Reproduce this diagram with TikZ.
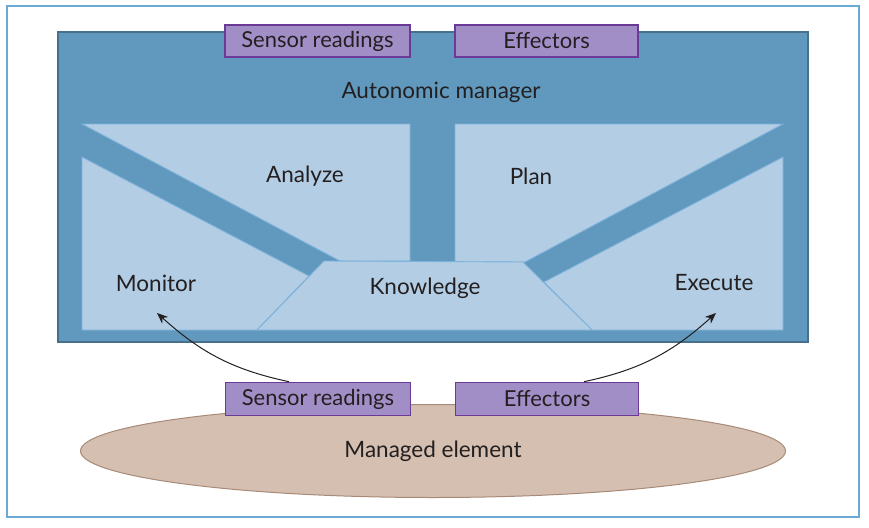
\documentclass[tikz,border=0pt]{standalone}
\usepackage{fontspec}
\setmainfont{Lato}
\usetikzlibrary{arrows.meta,shapes.geometric}
\definecolor{frameblue}{HTML}{6AAAD4}
\definecolor{mgrdark}{HTML}{6199BE}
\definecolor{mgredge}{HTML}{46708C}
\definecolor{lightpane}{HTML}{B3CDE4}
\definecolor{paneedge}{HTML}{7DB2DA}
\definecolor{purplefill}{HTML}{A28EC6}
\definecolor{purpleedge}{HTML}{6B3A96}
\definecolor{elfill}{HTML}{D4BFB0}
\definecolor{eledge}{HTML}{A88A78}
\definecolor{txt}{HTML}{231F20}
\tikzset{
  pane/.style={fill=lightpane,draw=paneedge,line width=0.9pt,line join=miter},
  tagbox/.style={draw=purpleedge,fill=purplefill,line width=1.6pt,minimum width=183pt,minimum height=32pt,inner sep=0pt,text=txt,font=\fontsize{22}{24}\selectfont},
  lbl/.style={text=txt,font=\fontsize{22.5}{24}\selectfont,inner sep=0pt},
  flow/.style={line width=1pt,draw=txt,-{Stealth[length=11pt,width=9pt]}}
}
\begin{document}
\begin{tikzpicture}[x=1pt,y=-1pt]
\useasboundingbox (0,0) rectangle (869,527);
\fill[white] (0,0) rectangle (869,527);
% outer frame
\draw[frameblue,line width=2pt] (7,6) rectangle (859,517);
% autonomic manager
\draw[fill=mgrdark,draw=mgredge,line width=1.6pt] (58,32) rectangle (808,342);
% panes
\draw[pane] (82,124) -- (410,124) -- (410,261) -- (340,261) -- cycle;
\draw[pane] (455,124) -- (783,124) -- (525,262) -- (455,262) -- cycle;
\draw[pane] (82,157) -- (309,276) -- (257,330) -- (82,330) -- cycle;
\draw[pane] (783,157) -- (544,282) -- (592,330) -- (783,330) -- cycle;
\draw[pane] (324,261) -- (523,262) -- (592,330) -- (257,330) -- cycle;
% labels
\node[lbl] (am) at (441,92) {Autonomic manager};
\node[lbl] (an) at (305,176) {Analyze};
\node[lbl] (pl) at (531,176) {Plan};
\node[lbl] (mo) at (156,283) {Monitor};
\node[lbl] (kn) at (425,288) {Knowledge};
\node[lbl] (ex) at (714,283) {Execute};
% top tags
\node[tagbox,minimum width=185pt] (srtop) at (317.5,41) {Sensor readings};
\node[tagbox] (eftop) at (546.5,41) {Effectors};
% managed element
\node[ellipse,draw=eledge,fill=elfill,line width=1pt,minimum width=705pt,minimum height=93pt,inner sep=0pt,lbl] (me) at (433,451) {Managed element};
% bottom tags
\node[tagbox,minimum width=185pt,minimum height=33pt] (srbot) at (318,399) {Sensor readings};
\node[tagbox,minimum height=33pt] (efbot) at (547,399) {Effectors};
% arrows
\coordinate (monend) at (157,313);
\coordinate (exend) at (716,313);
\draw[flow] ([xshift=-29pt]srbot.north) to[out=168,in=-42] (monend);
\draw[flow] ([xshift=37pt]efbot.north) to[out=12,in=-138] (exend);
\end{tikzpicture}
\end{document}
